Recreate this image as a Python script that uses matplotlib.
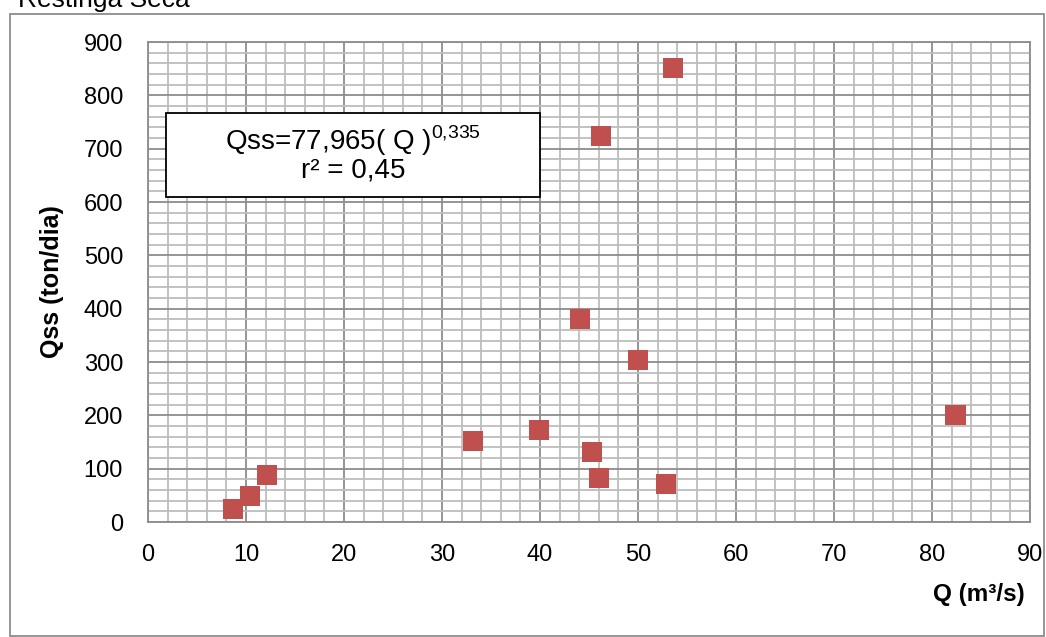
import matplotlib.pyplot as plt
from matplotlib.patches import Rectangle
from matplotlib.ticker import MultipleLocator

plt.rcParams['font.family'] = ['Liberation Sans', 'DejaVu Sans']
plt.rcParams['mathtext.fontset'] = 'custom'
plt.rcParams['mathtext.rm'] = 'Liberation Sans'

# vazão (m³/s) e descarga sólida em suspensão (ton/dia)
q = [8.7, 10.4, 12.1, 33.2, 39.9, 44.1, 45.3, 46.0, 46.2, 50.0, 52.9, 53.6, 82.4]
qss = [24, 49, 88, 152, 172, 380, 131, 83, 724, 303, 72, 851, 200]

fig = plt.figure(figsize=(10.46, 6.37), dpi=100)
ax = fig.add_axes([0.1415, 0.1805, 0.8432, 0.7535])

ax.scatter(q, qss, marker='s', s=210, color='#C0504D', edgecolors='none', zorder=3)

ax.set_xlim(0, 90)
ax.set_ylim(0, 900)
ax.xaxis.set_major_locator(MultipleLocator(10))
ax.xaxis.set_minor_locator(MultipleLocator(2))
ax.yaxis.set_major_locator(MultipleLocator(100))
ax.yaxis.set_minor_locator(MultipleLocator(20))
ax.grid(which='major', color='#8c8c8c', linewidth=1.3)
ax.grid(which='minor', color='#bdbdbd', linewidth=1.3)
ax.tick_params(which='both', length=0, labelsize=17)
ax.tick_params(axis='y', pad=18)
ax.tick_params(axis='x', pad=16)
for s in ax.spines.values():
    s.set_color('#8c8c8c')
    s.set_linewidth(1.3)

ax.set_ylabel('Qss (ton/dia)', fontsize=18, fontweight='bold', labelpad=14)
fig.text(0.936, 0.067, 'Q (m³/s)', fontsize=17.5, fontweight='bold', ha='center', va='center')

# caixa com a equação ajustada
fig.patches.append(Rectangle((0.1587, 0.6907), 0.3576, 0.1319, transform=fig.transFigure,
                             facecolor='white', edgecolor='black', linewidth=1.3, zorder=5))
fig.text(0.3375, 0.7645, r'Qss=77,965( Q )$^{0{,}335}$', fontsize=20, ha='center', va='baseline', zorder=6)
fig.text(0.3375, 0.7206, 'r² = 0,45', fontsize=20, ha='center', va='baseline', zorder=6)

# moldura externa e título
fig.patches.append(Rectangle((0.0095, 0.0015), 0.989, 0.977, transform=fig.transFigure,
                             facecolor='none', edgecolor='#8c8c8c', linewidth=1.3))
fig.text(0.017, 0.989, 'Restinga Seca', fontsize=19, ha='left', va='baseline')

fig.savefig('out.png', dpi=100)
